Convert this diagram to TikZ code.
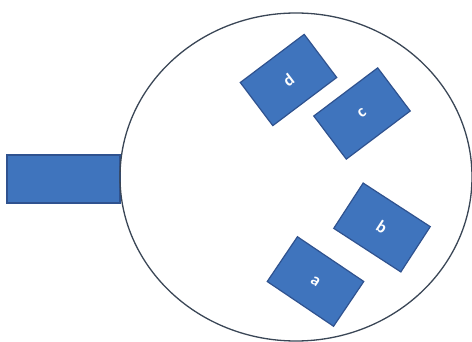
\documentclass[tikz,border=0pt]{standalone}
\usepackage{fontspec}
\setmainfont{Carlito}
\usetikzlibrary{shapes.geometric}
\definecolor{boxfill}{HTML}{3F74BD}
\definecolor{boxline}{HTML}{2F528F}
\definecolor{ringline}{HTML}{3A4656}
\tikzset{
  tag/.style={draw=boxline, line width=1.2pt, fill=boxfill, rectangle,
    minimum width=80pt, minimum height=54pt, inner sep=0pt,
    text=white, font=\fontsize{17}{17}\selectfont\bfseries},
}
\begin{document}
\begin{tikzpicture}[x=1pt,y=-1pt]
\useasboundingbox[fill=white] (0,0) rectangle (472,342);
\node[draw=boxline, line width=1.2pt, fill=boxfill, rectangle, minimum width=113pt, minimum height=48pt, inner sep=0pt] (handle) at (63.5,179) {};
\node[draw=ringline, line width=1.3pt, ellipse, minimum width=352pt, minimum height=328pt, inner sep=0pt] (ring) at (296,177) {};
\node[tag, rotate=37] (d) at (288.5,80) {d};
\node[tag, rotate=37] (c) at (362,113.5) {c};
\node[tag, rotate=-33] (b) at (382,227.5) {b};
\node[tag, rotate=-34] (a) at (315.5,281.5) {a};
\end{tikzpicture}
\end{document}
